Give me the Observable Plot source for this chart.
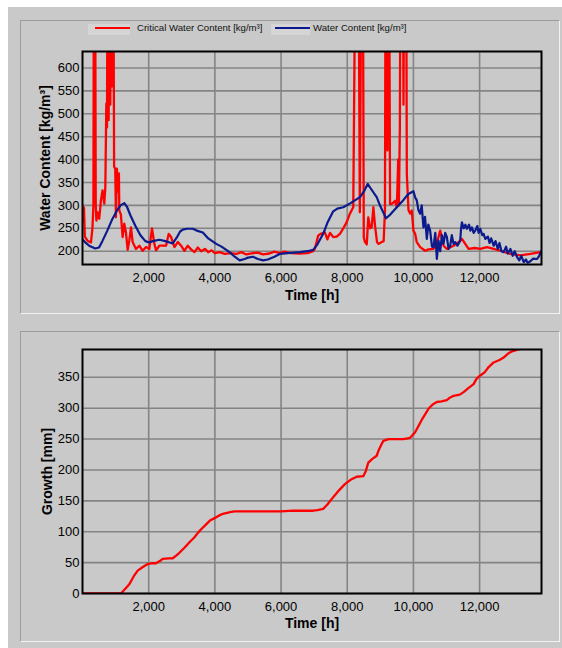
<!DOCTYPE html>
<html><head><meta charset="utf-8">
<script src="https://cdn.jsdelivr.net/npm/d3@7"></script>
<script src="https://cdn.jsdelivr.net/npm/@observablehq/plot@0.6"></script>
<style>
html,body{margin:0;padding:0;background:#fff;}
#page{position:relative;width:562px;height:648px;overflow:hidden;background:#fff;}
#bg{position:absolute;left:8px;top:7px;width:554px;height:641px;background:#c9c9c9;}
.panel{position:absolute;left:20px;width:538px;border-top:1px solid #9c9c9c;border-left:1px solid #9c9c9c;border-right:1px solid #f2f2f2;border-bottom:1px solid #f2f2f2;}
.chart{position:absolute;left:0;}
.lg-box{position:absolute;top:24px;height:11px;background:#d5d5d5;}
.lg-line{position:absolute;top:27px;height:2px;}
.lg-text{position:absolute;top:22px;font:9.6px 'Liberation Sans',Arial,sans-serif;color:#111;white-space:nowrap;}
</style>
</head><body>
<div id="page">
  <div id="bg"></div>
  <div class="panel" style="top:20px;height:292px;"></div>
  <div class="panel" style="top:331px;height:309px;"></div>
  <div class="lg-box" style="left:88px;width:42px;"></div>
  <div class="lg-line" style="left:95px;width:35px;background:#ff0000;"></div>
  <div class="lg-text" id="lg1" style="left:137px;"></div>
  <div class="lg-box" style="left:271px;width:39px;"></div>
  <div class="lg-line" style="left:275px;width:35px;background:#0b1a8c;"></div>
  <div class="lg-text" id="lg2" style="left:313px;"></div>
  <div class="chart" id="c1" style="top:0px;"></div>
  <div class="chart" id="c2" style="top:332px;"></div>
</div>
<script>
// ---- data ----
const seriesNames = ["Critical Water Content [kg/m³]", "Water Content [kg/m³]"];
const xTicks = [2000, 4000, 6000, 8000, 10000, 12000];
const topYTicks = [200, 250, 300, 350, 400, 450, 500, 550, 600];
const bottomYTicks = [0, 50, 100, 150, 200, 250, 300, 350];

const critTime = [0,25,45,70,150,255,300,330,345,380,400,420,455,506,557,606,658,690,720,740,760,790,810,840,860,900,930,955,990,1010,1040,1070,1100,1112,1160,1212,1263,1313,1364,1414,1465,1515,1616,1718,1818,1919,2020,2100,2172,2222,2323,2525,2606,2677,2778,2879,2980,3080,3180,3280,3384,3485,3585,3700,3800,3900,4000,4140,4300,4450,4650,4800,4950,5150,5300,5450,5650,5800,5960,6100,6300,6566,6800,6970,7021,7121,7200,7324,7400,7480,7576,7680,7778,7880,7980,8081,8182,8250,8340,8380,8430,8470,8500,8536,8590,8636,8690,8737,8790,8839,8900,8940,9042,9100,9140,9160,9200,9215,9240,9265,9293,9345,9445,9500,9540,9560,9590,9610,9680,9700,9720,9780,9800,9850,9899,9950,10000,10051,10101,10203,10354,10455,10606,10700,10809,10909,11010,11212,11364,11465,11566,11667,11850,12020,12222,12424,12626,12930,13232,13535,13838];
const critValue = [300,265,295,232,223,219,250,300,900,900,300,267,285,271,311,333,304,340,522,470,900,486,900,520,900,560,900,385,380,274,380,330,370,289,280,231,260,241,203,223,252,220,205,212,201,209,205,250,216,202,212,212,238,231,209,220,212,201,212,204,198,208,200,205,198,202,196,198,194,196,194,198,193,196,197,193,195,199,196,199,196,195,196,200,205,234,238,241,226,240,231,232,238,250,263,282,296,900,900,285,900,900,230,220,215,274,250,252,296,256,220,216,220,222,289,900,900,420,900,900,303,303,310,296,400,300,470,900,900,520,900,900,369,290,282,289,245,238,220,209,201,204,205,215,245,212,205,212,220,227,216,205,207,205,209,205,201,194,191,194,198];

const waterTime = [0,100,200,385,500,600,750,900,1050,1150,1264,1350,1450,1600,1750,1900,2020,2120,2324,2500,2727,2850,2950,3030,3150,3333,3450,3636,3800,4042,4200,4445,4600,4750,4900,5000,5150,5300,5455,5600,5800,5960,6200,6566,6800,6970,7100,7273,7400,7576,7700,7879,8100,8385,8500,8618,8700,8890,9000,9173,9300,9497,9700,9848,10000,10050,10101,10150,10203,10250,10303,10350,10405,10450,10505,10560,10606,10660,10708,10758,10810,10860,10909,10960,11010,11060,11111,11160,11212,11263,11330,11414,11440,11465,11520,11570,11616,11680,11720,11768,11820,11869,11930,11970,12020,12080,12120,12172,12250,12300,12350,12424,12480,12550,12600,12660,12727,12800,12850,12930,13000,13060,13131,13200,13260,13333,13400,13450,13535,13620,13737,13800,13870];
const waterValue = [226,218,212,206,208,222,245,270,290,300,305,296,278,255,235,222,219,222,225,222,217,230,243,247,249,249,245,241,228,216,210,198,188,180,183,186,188,183,180,182,188,194,196,198,200,203,215,238,262,287,293,296,305,318,330,347,338,318,298,272,280,296,312,325,331,318,311,290,282,300,252,275,227,258,245,210,209,240,183,223,200,235,216,240,231,205,212,235,216,220,212,223,250,263,250,258,249,258,245,252,240,245,255,240,249,235,238,227,232,218,228,212,222,205,218,200,198,210,195,205,190,200,187,180,190,176,182,175,178,184,183,190,201];

const growthTime = [0,1162,1300,1414,1550,1667,1800,1970,2100,2222,2350,2424,2600,2727,2850,2929,3080,3232,3384,3500,3586,3737,3850,3990,4120,4242,4400,4495,4600,5000,5500,6000,6363,6970,7100,7273,7400,7576,7750,7929,8100,8283,8485,8560,8636,8760,8890,8950,9040,9091,9250,9394,9700,9899,10051,10250,10455,10580,10707,10850,11010,11100,11212,11400,11515,11650,11818,11900,12020,12150,12280,12424,12600,12727,12850,12980,13100,13232,13500];
const growthValue = [0,0,8,15,28,37,42,47.6,49,49,53,56,57,57,62,66,74,83,91,99,104,112,118,122,126,129,131,132,133,133,133,133,134,134,135,137,144,156,167,177,184,189,190,198,212,218,223,232,242,247,250,250,250,252,261,281,299,306,310,311,313,317,320,322,326,332,339,347,353,358,367,374,378,382,388,392,394,396,402];

// ---- build tables ----
const crit = critTime.map((t, i) => ({t, v: critValue[i]}));
const water = waterTime.map((t, i) => ({t, v: waterValue[i]}));
const growth = growthTime.map((t, i) => ({t, v: growthValue[i]}));

document.getElementById("lg1").textContent = seriesNames[0];
document.getElementById("lg2").textContent = seriesNames[1];

const FONT = "'Liberation Sans', Arial, sans-serif";
const gridStyle = {stroke: "#848484", strokeOpacity: 1, strokeWidth: 1.6};
const fmt = d3.format(",");

const top1 = Plot.plot({
  width: 562, height: 312,
  marginLeft: 82, marginRight: 21, marginTop: 51, marginBottom: 48,
  style: {background: "transparent", fontFamily: FONT, fontSize: "13px", color: "#000", overflow: "visible"},
  x: {domain: [0, 13870]},
  y: {domain: [171, 636]},
  marks: [
    Plot.gridX(xTicks, gridStyle),
    Plot.gridY(topYTicks, gridStyle),
    Plot.line(crit, {x: "t", y: "v", stroke: "#ff0000", strokeWidth: 2.3, clip: true}),
    Plot.line(water, {x: "t", y: "v", stroke: "#0b1a8c", strokeWidth: 2.2, clip: true}),
    Plot.frame({stroke: "#000", strokeWidth: 2}),
    Plot.axisX(xTicks, {tickSize: 0, tickPadding: 8, tickFormat: fmt, label: null, fontSize: 13}),
    Plot.axisY(topYTicks, {tickSize: 0, tickPadding: 3, label: null, fontSize: 13}),
    Plot.text(["Time [h]"], {text: d => d, frameAnchor: "bottom", dy: 26, lineAnchor: "top", textAnchor: "middle", fontWeight: "bold", fontSize: 14}),
    Plot.text(["Water Content [kg/m³]"], {text: d => d, frameAnchor: "left", dx: -37, rotate: -90, textAnchor: "middle", fontWeight: "bold", fontSize: 14})
  ]
});
document.getElementById("c1").appendChild(top1);

const bot = Plot.plot({
  width: 562, height: 316,
  marginLeft: 82, marginRight: 21, marginTop: 17, marginBottom: 55,
  style: {background: "transparent", fontFamily: FONT, fontSize: "13px", color: "#000", overflow: "visible"},
  x: {domain: [0, 13870]},
  y: {domain: [0, 395]},
  marks: [
    Plot.gridX(xTicks, gridStyle),
    Plot.gridY(bottomYTicks, gridStyle),
    Plot.line(growth, {x: "t", y: "v", stroke: "#ff0000", strokeWidth: 2.3, clip: true}),
    Plot.frame({stroke: "#000", strokeWidth: 2}),
    Plot.axisX(xTicks, {tickSize: 0, tickPadding: 8, tickFormat: fmt, label: null, fontSize: 13}),
    Plot.axisY(bottomYTicks, {tickSize: 0, tickPadding: 3, label: null, fontSize: 13}),
    Plot.text(["Time [h]"], {text: d => d, frameAnchor: "bottom", dy: 25, lineAnchor: "top", textAnchor: "middle", fontWeight: "bold", fontSize: 14}),
    Plot.text(["Growth [mm]"], {text: d => d, frameAnchor: "left", dx: -35, rotate: -90, textAnchor: "middle", fontWeight: "bold", fontSize: 14})
  ]
});
document.getElementById("c2").appendChild(bot);
</script>
</body></html>
